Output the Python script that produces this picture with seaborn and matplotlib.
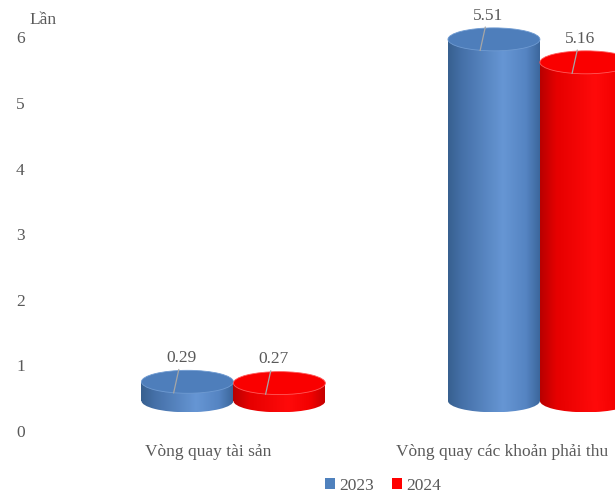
import numpy as np
import pandas as pd
import matplotlib
matplotlib.use("Agg")
import matplotlib.pyplot as plt
from matplotlib.patches import Ellipse, Patch
from matplotlib.colors import LinearSegmentedColormap
import seaborn as sns

# ── data ─────────────────────────────────────────────────────────────────────
categories = ["Vòng quay tài sản", "Vòng quay các khoản phải thu"]
years = ["2023", "2024"]
v2023 = [0.29, 5.51]
v2024 = [0.27, 5.16]
y_label = "Lần"
y_ticks = [0, 1, 2, 3, 4, 5, 6]

# ── style ────────────────────────────────────────────────────────────────────
sns.set_style("white")
plt.rcParams["font.family"] = ["Liberation Serif", "DejaVu Serif"]
TXT = "#595959"
FS = 12.5
BASE = {"2023": "#4F81BD", "2024": "#FF0000"}
TOP = {"2023": "#4E7EBB", "2024": "#FA0000"}
RIM = {"2023": "#6F9BD2", "2024": "#FF5A5A"}
GRAD = {
    "2023": LinearSegmentedColormap.from_list(
        "b", [(0, "#37608F"), (0.15, "#4570A8"), (0.6, "#6696D4"),
              (0.85, "#5584C2"), (1, "#3C679C")]),
    "2024": LinearSegmentedColormap.from_list(
        "r", [(0, "#B80000"), (0.18, "#E60000"), (0.6, "#FF0A0A"),
              (0.85, "#F20000"), (1, "#C40000")]),
}
FLOOR = 0.46      # 3D floor offset (units)
ELL_H = 0.35      # ellipse height in y units

df = pd.DataFrame({
    "category": categories * 2,
    "year": [years[0]] * 2 + [years[1]] * 2,
    "value": v2023 + v2024,
})

fig = plt.figure(figsize=(6.15, 4.95), dpi=100)
ax = fig.add_axes([40 / 615, 1 - 431 / 495, 575 / 615, 431 / 495])

sns.barplot(data=df, x="category", y="value", hue="year", hue_order=years,
            palette=BASE, width=0.6, ax=ax, legend=False, linewidth=0,
            saturation=1)

grad = np.linspace(0, 1, 256).reshape(1, -1)
for yr, cont in zip(years, ax.containers):
    for bar in cont.patches:
        x0, w, h = bar.get_x(), bar.get_width(), bar.get_height()
        xc = x0 + w / 2
        bar.set_y(FLOOR)
        top = FLOOR + h
        # side of cylinder
        im = ax.imshow(grad, cmap=GRAD[yr], extent=[x0, x0 + w, FLOOR, top],
                       aspect="auto", origin="lower", zorder=2)
        im.set_clip_path(bar)
        # bottom rounded edge
        bot = Ellipse((xc, FLOOR), w, ELL_H, facecolor="none", edgecolor="none")
        ax.add_patch(bot)
        im2 = ax.imshow(grad, cmap=GRAD[yr],
                        extent=[x0, x0 + w, FLOOR - ELL_H / 2, FLOOR + ELL_H / 2],
                        aspect="auto", origin="lower", zorder=1.9)
        im2.set_clip_path(bot)
        # top face
        ax.add_patch(Ellipse((xc, top), w, ELL_H, facecolor=TOP[yr],
                             edgecolor=RIM[yr], linewidth=0.6, zorder=3))
        # value label with leader line
        ax.annotate(f"{h:.2f}", xy=(xc - 0.045, top - 0.17),
                    xytext=(xc - 0.02, top + 0.36),
                    ha="center", va="center", fontsize=FS, color=TXT,
                    arrowprops=dict(arrowstyle="-", color="#A6A6A6", lw=0.9,
                                    shrinkA=0, shrinkB=0),
                    zorder=4)

ax.set_xlim(-0.631, 1.245)
ax.set_ylim(0, 431 / 65.6)
ax.set_yticks(y_ticks)
ax.set_yticklabels([str(t) for t in y_ticks], fontsize=FS, color=TXT)
ax.set_xticks([-0.083, 0.876])
ax.set_xticklabels(categories, fontsize=FS, color=TXT)
ax.tick_params(axis="y", length=0, pad=11)
ax.tick_params(axis="x", length=0, pad=9)
ax.set_xlabel("")
ax.set_ylabel("")
for s in ax.spines.values():
    s.set_visible(False)

fig.text(29 / 615, 1 - 20 / 495, y_label, fontsize=FS, color=TXT,
         ha="left", va="center")

handles = [Patch(facecolor=BASE[y], edgecolor="none", label=y) for y in years]
leg = fig.legend(handles=handles, loc="center", ncol=2, frameon=False,
                 bbox_to_anchor=(383 / 615, 1 - 486 / 495), fontsize=FS,
                 handlelength=0.6, handleheight=0.6, handletextpad=0.25,
                 columnspacing=1.0, borderaxespad=0, borderpad=0)
for t in leg.get_texts():
    t.set_color(TXT)

fig.savefig("out.png", dpi=100)
plt.close(fig)
